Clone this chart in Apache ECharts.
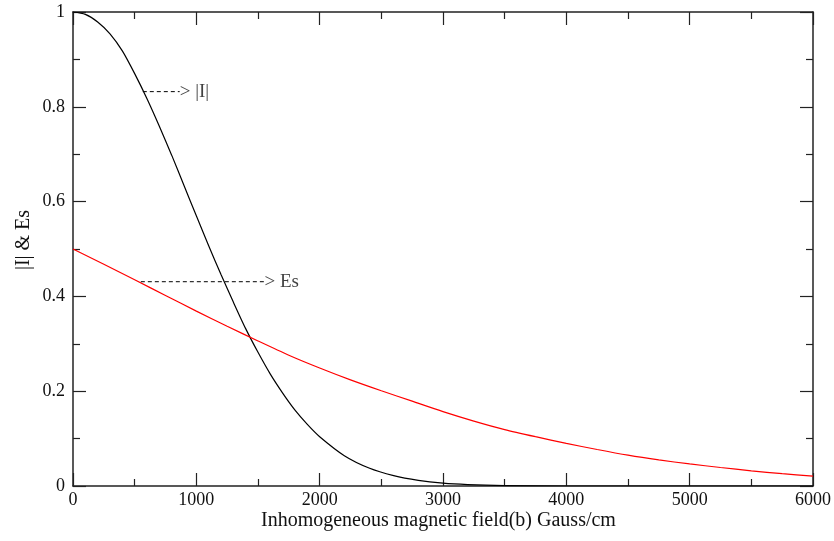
<!DOCTYPE html>
<html>
<head>
<meta charset="utf-8">
<script src="https://cdn.jsdelivr.net/npm/echarts@6/dist/echarts.min.js"></script>
<style>html,body{margin:0;padding:0;background:#fff}#c{width:834px;height:541px}</style>
</head>
<body>
<div id="c"></div>
<script>
// |I| curve (black)
const xI = [0,100,200,300,400,500,600,700,800,900,1000,1100,1200,1300,1400,1500,1600,1700,1800,1900,2000,2200,2400,2600,2800,3000,3200,3500,4000,5000,6000];
const yI = [1.0,0.995,0.979,0.954,0.918,0.870,0.817,0.759,0.698,0.634,0.570,0.507,0.446,0.388,0.332,0.282,0.236,0.196,0.160,0.130,0.104,0.064,0.038,0.022,0.012,0.006,0.003,0.001,0,0,0];
// Es curve (red)
const xE = [0,250,500,750,1000,1250,1500,1750,2000,2250,2500,2750,3000,3250,3500,3750,4000,4250,4500,4750,5000,5250,5500,5750,6000];
const yE = [0.500,0.468,0.435,0.402,0.369,0.337,0.306,0.276,0.249,0.224,0.201,0.179,0.157,0.137,0.119,0.104,0.090,0.077,0.065,0.055,0.0465,0.039,0.032,0.026,0.021];
// annotations
const arrowI = {from:[566,0.832], to:[865,0.832], text:'> |I|'};
const arrowE = {from:[550,0.431], to:[1552,0.431], text:'> Es'};
const xTitle = 'Inhomogeneous magnetic field(b) Gauss/cm';
const yTitle = '|I| & Es';

const font = '"Liberation Serif","DejaVu Serif",serif';
const pairs = (xs, ys) => xs.map((x,i)=>[x, ys[i]]);

const axisCommon = {
  axisLine:{show:true, onZero:false, lineStyle:{color:'#222', width:1.5}},
  axisTick:{show:true, inside:true, length:13, lineStyle:{color:'#222', width:1.2}},
  minorTick:{show:true, splitNumber:2, length:7, lineStyle:{color:'#222', width:1.2}},
  splitLine:{show:false}
};

const chart = echarts.init(document.getElementById('c'), null, {renderer:'canvas'});
chart.setOption({
  animation:false,
  backgroundColor:'#fff',
  grid:{left:73, right:19, top:12, bottom:55},
  xAxis:[
    Object.assign({type:'value', position:'bottom', min:0, max:6000, interval:1000,
      axisLabel:{color:'#111', fontFamily:font, fontSize:18, margin:5, formatter:v=>String(v)}}, axisCommon),
    Object.assign({type:'value', position:'top', min:0, max:6000, interval:1000,
      axisLabel:{show:false}}, axisCommon)
  ],
  yAxis:[
    Object.assign({type:'value', position:'left', min:0, max:1, interval:0.2,
      axisLabel:{color:'#111', fontFamily:font, fontSize:18, margin:8, formatter:v=>String(+v.toFixed(2))}}, axisCommon),
    Object.assign({type:'value', position:'right', min:0, max:1, interval:0.2,
      axisLabel:{show:false}}, axisCommon)
  ],
  series:[
    {type:'line', data:pairs(xI,yI), smooth:0.25, showSymbol:false, lineStyle:{color:'#000', width:1.2}, z:3},
    {type:'line', data:pairs(xE,yE), smooth:0.25, showSymbol:false, lineStyle:{color:'#ff0000', width:1.2}, z:3},
    {type:'line', data:[arrowI.from, arrowI.to], showSymbol:false, lineStyle:{color:'#000', width:1, type:[4,3]}},
    {type:'line', data:[arrowE.from, arrowE.to], showSymbol:false, lineStyle:{color:'#000', width:1, type:[4,3]}},
    {type:'scatter', symbolSize:0, data:[arrowI.to],
      label:{show:true, position:'right', distance:0, formatter:arrowI.text, fontFamily:font, fontSize:19, color:'#111'}},
    {type:'scatter', symbolSize:0, data:[arrowE.to],
      label:{show:true, position:'right', distance:0, formatter:arrowE.text, fontFamily:font, fontSize:19, color:'#111'}}
  ],
  graphic:[
    {type:'text', left:261, top:511, style:{text:xTitle, font:'20px '+font, fill:'#111'}},
    {type:'text', x:14, y:240, rotation:Math.PI/2, style:{text:yTitle, font:'20px '+font, fill:'#111', align:'center', verticalAlign:'top'}}
  ]
});
</script>
</body>
</html>
